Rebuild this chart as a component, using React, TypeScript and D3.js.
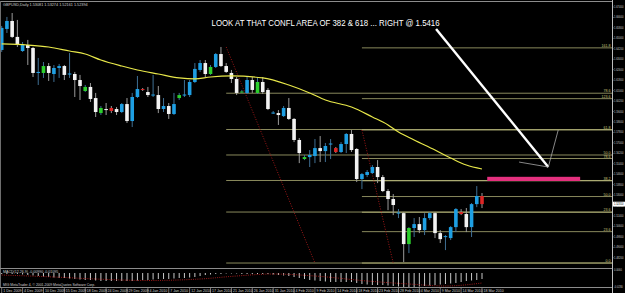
import React from 'react';
import * as d3 from 'd3';

const W = 625;
const H = 293;

// ---------- data ----------
const opens = [
  1.6411, 1.6572, 1.6633, 1.6511, 1.6403, 1.6449, 1.6426, 1.6235, 1.6235, 1.6288,
  1.6227, 1.6273, 1.6288, 1.6223, 1.6227, 1.6181, 1.6097, 1.6128, 1.6043, 1.5928,
  1.5959, 1.5967, 1.5959, 1.5936, 1.5997, 1.5867, 1.6051, 1.6112, 1.6089, 1.6062,
  1.6066, 1.5959, 1.5982, 1.5921, 1.6043, 1.6062, 1.6066, 1.6166, 1.6258, 1.6311,
  1.6227, 1.6281, 1.6380, 1.6288, 1.6235, 1.6189, 1.6085, 1.6082, 1.6181, 1.6082,
  1.6166, 1.6105, 1.5925, 1.5928, 1.5905, 1.5967, 1.5883, 1.5722, 1.5576, 1.5591,
  1.5599, 1.5660, 1.5637, 1.5687, 1.5660, 1.5630, 1.5691, 1.5768, 1.5653, 1.5423,
  1.5454, 1.5469, 1.5515, 1.5438, 1.5331, 1.5270, 1.5159, 1.5162, 1.4925, 1.5048,
  1.5078, 1.5032, 1.5124, 1.5162, 1.5009, 1.4979, 1.4971, 1.5055, 1.5170, 1.5155,
  1.5055, 1.5231, 1.5293,
];
const highs = [
  1.6595, 1.6664, 1.6694, 1.6641, 1.6472, 1.6488, 1.6434, 1.6350, 1.6319, 1.6311,
  1.6296, 1.6304, 1.6296, 1.6388, 1.6243, 1.6220, 1.6143, 1.6158, 1.6082, 1.5982,
  1.6005, 1.5982, 1.5974, 1.6005, 1.6043, 1.6082, 1.6212, 1.6120, 1.6128, 1.6220,
  1.6135, 1.6043, 1.6005, 1.6082, 1.6082, 1.6181, 1.6181, 1.6311, 1.6334, 1.6334,
  1.6296, 1.6388, 1.6434, 1.6311, 1.6258, 1.6204, 1.6105, 1.6204, 1.6204, 1.6204,
  1.6204, 1.6120, 1.5944, 1.5951, 1.5982, 1.6043, 1.5890, 1.5737, 1.5607, 1.5645,
  1.5729, 1.5752, 1.5699, 1.5729, 1.5668, 1.5706, 1.5775, 1.5798, 1.5660, 1.5469,
  1.5492, 1.5530, 1.5568, 1.5454, 1.5346, 1.5308, 1.5193, 1.5170, 1.5055, 1.5124,
  1.5132, 1.5162, 1.5170, 1.5170, 1.5032, 1.4994, 1.5063, 1.5201, 1.5193, 1.5201,
  1.5239, 1.5369, 1.5316,
];
const lows = [
  1.6396, 1.6541, 1.6503, 1.6434, 1.6396, 1.6296, 1.6204, 1.6143, 1.6197, 1.6174,
  1.6166, 1.6197, 1.6181, 1.6197, 1.6051, 1.6028, 1.6089, 1.6013, 1.5898, 1.5913,
  1.5913, 1.5928, 1.5913, 1.5928, 1.5852, 1.5821, 1.6043, 1.6097, 1.6051, 1.6051,
  1.5928, 1.5936, 1.5883, 1.5913, 1.6028, 1.6051, 1.6051, 1.6158, 1.6243, 1.6204,
  1.6220, 1.6273, 1.6281, 1.6235, 1.6158, 1.6066, 1.6082, 1.6074, 1.6082, 1.6074,
  1.6074, 1.5951, 1.5921, 1.5837, 1.5898, 1.5875, 1.5706, 1.5545, 1.5568, 1.5515,
  1.5545, 1.5553, 1.5553, 1.5576, 1.5622, 1.5622, 1.5622, 1.5630, 1.5400, 1.5346,
  1.5438, 1.5461, 1.5392, 1.5323, 1.5185, 1.5147, 1.5124, 1.4787, 1.4856, 1.4979,
  1.5009, 1.4994, 1.5109, 1.4971, 1.4933, 1.4879, 1.4956, 1.5017, 1.5147, 1.5017,
  1.4979, 1.5208, 1.5201,
];
const closes = [
  1.6580, 1.6633, 1.6511, 1.6449, 1.6449, 1.6426, 1.6235, 1.6243, 1.6288, 1.6235,
  1.6273, 1.6288, 1.6220, 1.6231, 1.6181, 1.6135, 1.6128, 1.6036, 1.5936, 1.5967,
  1.5951, 1.5944, 1.5936, 1.5997, 1.5867, 1.6051, 1.6112, 1.6105, 1.6066, 1.6070,
  1.5959, 1.5982, 1.5921, 1.5997, 1.6066, 1.6070, 1.6166, 1.6266, 1.6311, 1.6227,
  1.6281, 1.6380, 1.6288, 1.6243, 1.6189, 1.6082, 1.6093, 1.6181, 1.6105, 1.6166,
  1.6089, 1.5959, 1.5932, 1.5913, 1.5967, 1.5883, 1.5722, 1.5622, 1.5591, 1.5607,
  1.5660, 1.5637, 1.5676, 1.5695, 1.5630, 1.5691, 1.5768, 1.5645, 1.5423, 1.5461,
  1.5477, 1.5515, 1.5438, 1.5331, 1.5270, 1.5224, 1.5166, 1.4925, 1.5048, 1.5078,
  1.5032, 1.5124, 1.5162, 1.5009, 1.4963, 1.4986, 1.5055, 1.5193, 1.5155, 1.5055,
  1.5231, 1.5293, 1.5231,
];
// candle paint: u = blue, d = white, g = green, r = red
const kinds = (
  'uudduddugd' + 'uududdgddg' + 'drduduurdu' + 'duduguuuud' + 'guddddgudg' +
  'ddudu' + 'dddgu' + 'uduuruuddu' + 'uuddddudgu' + 'duudduuurd' + 'uur'
).split('');

// moving average (yellow) read at sample bars
const maIndex = [0, 5, 9, 13, 16, 19, 23, 26, 30, 34, 37, 40, 44, 50, 55, 59, 62, 67, 71, 74, 76, 79, 83, 86, 89, 92];
const maValue = [1.6457, 1.6449, 1.6434, 1.6403, 1.6380, 1.6334, 1.6288, 1.6258, 1.6227, 1.6197, 1.6189, 1.6204, 1.6212,
  1.6197, 1.6143, 1.6082, 1.6028, 1.5974, 1.5898, 1.5837, 1.5783, 1.5722, 1.5645, 1.5584, 1.5530, 1.5500];

// MACD histogram (main) per bar and signal at sample bars
const macdMain = [
  -0.002, -0.002, -0.002, -0.002, -0.003, -0.004,
  -0.005, -0.006, -0.007, -0.008, -0.009,
  -0.010, -0.010, -0.011, -0.012, -0.013,
  -0.014, -0.014, -0.015, -0.016, -0.016, -0.016, -0.016, -0.016, -0.016, -0.016,
  -0.015, -0.014, -0.014, -0.013, -0.012, -0.012, -0.012, -0.011, -0.010, -0.010,
  -0.009, -0.008, -0.006, -0.004, -0.003, -0.002,
  -0.002, -0.001, -0.001, -0.001, -0.002, -0.002, -0.002, -0.002, -0.002, -0.002, -0.003,
  -0.004, -0.005, -0.006, -0.008, -0.010, -0.012, -0.014, -0.015,
  -0.016, -0.017, -0.018, -0.018, -0.018, -0.018, -0.018, -0.020, -0.022, -0.023,
  -0.024, -0.024, -0.024, -0.025, -0.026, -0.027, -0.028, -0.028,
  -0.028, -0.027, -0.026, -0.025, -0.024, -0.023, -0.022, -0.021,
  -0.020, -0.018, -0.016, -0.015, -0.014, -0.012,
];
const sigIndex = [0, 10, 18, 28, 38, 45, 52, 60, 70, 78, 85, 92];
const sigValue = [-0.004, -0.008, -0.012, -0.015, -0.012, -0.006, -0.002, -0.006, -0.016, -0.022, -0.026, -0.020];

// Fibonacci objects: anchors [bar, price] and levels (%)
const fib1Anchors = [[43, 1.6434], [60, 1.4780]];
const fib1Levels = [0, 23.6, 38.2, 50, 61.8, 78.6];
const fib2Anchors = [[69, 1.5798], [75, 1.4780]];
const fib2Levels = [0, 23.6, 38.2, 50, 61.8, 78.6, 100, 123.6, 161.8];

// annotations [bar, price]
const arrowMain = [[83.2, 1.6572], [104.7, 1.5515]];
const arrowHeadA = [[99.1, 1.5553], [104.7, 1.5515]];
const arrowHeadB = [[104.7, 1.5515], [106.6, 1.5798]];
const zoneBars = [93, 110.8];
const zonePrices = [1.5440, 1.5408];
const noteAnchor = [40.2, 1.6598];
const noteText = 'LOOK AT THAT CONFL AREA OF 382 & 618 ... RIGHT @ 1.5416';

const priceTicks = [1.674, 1.666, 1.658, 1.650, 1.642, 1.634, 1.626, 1.618, 1.610, 1.602, 1.594, 1.586, 1.578,
  1.570, 1.562, 1.554, 1.546, 1.538, 1.530, 1.522, 1.514, 1.506, 1.498, 1.490, 1.482];
const macdTicks = [0.006, -0.028];

const dateLabels = ['1 Dec 2009', '4 Dec 2009', '10 Dec 2009', '15 Dec 2009', '18 Dec 2009', '24 Dec 2009',
  '29 Dec 2009', '4 Jan 2010', '7 Jan 2010', '12 Jan 2010', '17 Jan 2010', '21 Jan 2010', '26 Jan 2010',
  '31 Jan 2010', '4 Feb 2010', '9 Feb 2010', '14 Feb 2010', '18 Feb 2010', '23 Feb 2010', '28 Feb 2010',
  '4 Mar 2010', '9 Mar 2010', '14 Mar 2010', '18 Mar 2010'];
const dateStep = 4;

const titleText = 'GBPUSD,Daily  1.53081 1.53274 1.52161 1.52394';
const macdText = 'MACD(12,26,9) -0.00990 -0.01095';
const footerText = 'MIG MetaTrader 4, \u00a9 2001-2009 MetaQuotes Software Corp.';

// ---------- styles ----------
const FONT = '"Liberation Sans", Arial, sans-serif';
const candleColors: Record<string, { body: string; wick: string }> = {
  u: { body: '#1e9fe3', wick: '#3f6f93' },
  d: { body: '#f2f2f2', wick: '#9a9a9a' },
  g: { body: '#2ccf2c', wick: '#3f6f93' },
  r: { body: '#dd2626', wick: '#9a9a9a' },
};
const FIB_COLOR = '#e4e49a';

export default function App() {
  const plotRight = 612;
  const x = d3.scaleLinear().domain([0, 92]).range([1.7, 482]);
  const y = d3.scaleLinear().domain([1.474, 1.674]).range([268.25, 7]);
  const ym = d3.scaleLinear().domain([-0.028, 0.006]).range([287, 270]);
  const bw = 3.6;

  const maLine = d3
    .line<number>()
    .x((_, i) => x(maIndex[i]))
    .y((v) => y(v))
    .curve(d3.curveMonotoneX)(maValue);

  const sigLine = d3
    .line<number>()
    .x((_, i) => x(sigIndex[i]))
    .y((v) => ym(v))
    .curve(d3.curveMonotoneX)(sigValue);

  const fibs = [
    { anchors: fib1Anchors, levels: fib1Levels },
    { anchors: fib2Anchors, levels: fib2Levels },
  ];

  // level labels: keep only one label per pixel row so they do not overprint
  const usedLabelY: number[] = [];

  const lastClose = closes[closes.length - 1];
  const axisFont = 2.6;

  return (
    <svg
      width={W}
      height={H}
      style={{ position: 'fixed', left: 0, top: 0, display: 'block', background: '#000' }}
      fontFamily={FONT}
    >
      <rect width={W} height={H} fill="#000" />
      <defs>
        <clipPath id="mainClip">
          <rect x={1} y={2} width={plotRight - 1} height={266} />
        </clipPath>
        <clipPath id="macdClip">
          <rect x={1} y={270} width={plotRight - 1} height={17} />
        </clipPath>
      </defs>

      {/* window frame */}
      <line x1={0} x2={plotRight} y1={1.5} y2={1.5} stroke="#8c8c8c" />
      <line x1={0.5} x2={0.5} y1={1} y2={287} stroke="#6e6e6e" />
      <line x1={0} x2={plotRight} y1={268.5} y2={268.5} stroke="#8c8c8c" />
      <line x1={0} x2={plotRight} y1={287.5} y2={287.5} stroke="#8c8c8c" />
      <line x1={plotRight + 0.5} x2={plotRight + 0.5} y1={0} y2={293} stroke="#bdbdbd" />

      <g clipPath="url(#mainClip)">
        {/* fib levels */}
        {fibs.map((f, fi) => {
          const [a, b] = f.anchors;
          const lo = Math.min(a[1], b[1]);
          const range = Math.abs(a[1] - b[1]);
          const x0 = x(Math.min(a[0], b[0]));
          return (
            <g key={'fib' + fi}>
              {f.levels.map((lv) => {
                const yy = y(lo + (range * lv) / 100);
                return (
                  <line key={lv} x1={x0} x2={plotRight} y1={yy} y2={yy} stroke={FIB_COLOR} strokeOpacity={0.6} strokeWidth={1} />
                );
              })}
              <line
                x1={x(a[0])}
                y1={y(a[1])}
                x2={x(b[0])}
                y2={y(b[1])}
                stroke="#a01818"
                strokeWidth={1}
                strokeDasharray="1 1.6"
              />
            </g>
          );
        })}

        {/* pink zone */}
        <rect
          x={x(zoneBars[0])}
          y={y(zonePrices[0])}
          width={x(zoneBars[1]) - x(zoneBars[0])}
          height={y(zonePrices[1]) - y(zonePrices[0])}
          fill="#e4307e"
        />

        {/* candles */}
        {opens.map((o, i) => {
          const c = closes[i];
          const col = candleColors[kinds[i]] || candleColors.u;
          const cx = x(i);
          const top = y(Math.max(o, c));
          const bot = y(Math.min(o, c));
          return (
            <g key={'c' + i}>
              <line x1={cx} x2={cx} y1={y(highs[i])} y2={y(lows[i])} stroke={col.wick} strokeWidth={1} />
              <rect x={cx - bw / 2} y={top} width={bw} height={Math.max(1, bot - top)} fill={col.body} />
            </g>
          );
        })}

        {/* moving average */}
        <path d={maLine || ''} fill="none" stroke="#e8e84a" strokeWidth={1.2} />

        {/* arrow annotation */}
        <line
          x1={x(arrowMain[0][0])}
          y1={y(arrowMain[0][1])}
          x2={x(arrowMain[1][0])}
          y2={y(arrowMain[1][1])}
          stroke="#ffffff"
          strokeWidth={2.4}
        />
        <line
          x1={x(arrowHeadA[0][0])}
          y1={y(arrowHeadA[0][1])}
          x2={x(arrowHeadA[1][0])}
          y2={y(arrowHeadA[1][1])}
          stroke="#a8a8a8"
          strokeWidth={0.8}
        />
        <line
          x1={x(arrowHeadB[0][0])}
          y1={y(arrowHeadB[0][1])}
          x2={x(arrowHeadB[1][0])}
          y2={y(arrowHeadB[1][1])}
          stroke="#a8a8a8"
          strokeWidth={0.8}
        />

        {/* note */}
        <text x={x(noteAnchor[0])} y={y(noteAnchor[1])} fontSize={8.3} fill="#ffffff" textLength={228} lengthAdjust="spacingAndGlyphs">
          {noteText}
        </text>
      </g>

      {/* fib level labels */}
      {fibs.map((f, fi) => {
        const [a, b] = f.anchors;
        const lo = Math.min(a[1], b[1]);
        const range = Math.abs(a[1] - b[1]);
        return f.levels.map((lv) => {
          const yy = y(lo + (range * lv) / 100);
          if (usedLabelY.some((u) => Math.abs(u - yy) < 3.5)) return null;
          usedLabelY.push(yy);
          return (
            <text
              key={'fl' + fi + '-' + lv}
              x={plotRight - 1.5}
              y={yy - 0.8}
              fontSize={3.6}
              fill="#c8c87a"
              textAnchor="end"
            >
              {lv.toFixed(1)}
            </text>
          );
        });
      })}

      {/* title */}
      <text x={3} y={6} fontSize={3.8} fill="#cfcfcf">
        {titleText}
      </text>

      {/* price axis */}
      {priceTicks.map((p) => (
        <g key={'pt' + p}>
          <line x1={plotRight} x2={plotRight + 1.6} y1={y(p)} y2={y(p)} stroke="#bdbdbd" strokeWidth={0.6} />
          <text x={plotRight + 2} y={y(p) + 1} fontSize={axisFont} fill="#c8c8c8">
            {p.toFixed(5)}
          </text>
        </g>
      ))}
      <rect x={plotRight + 1} y={y(lastClose) - 2.4} width={W - plotRight - 1} height={4.8} fill="#ffffff" />
      <text x={plotRight + 2} y={y(lastClose) + 1} fontSize={axisFont} fill="#000">
        {lastClose.toFixed(5)}
      </text>

      {/* MACD window */}
      <g clipPath="url(#macdClip)">
        {macdMain.map((v, i) => (
          <line key={'m' + i} x1={x(i)} x2={x(i)} y1={ym(0)} y2={ym(v)} stroke="#c8c8c8" strokeWidth={1} />
        ))}
        <path d={sigLine || ''} fill="none" stroke="#c02020" strokeWidth={0.8} strokeDasharray="1 1.2" />
      </g>
      <text x={3} y={273} fontSize={3.6} fill="#d0d0d0">
        {macdText}
      </text>
      <text x={3} y={285.5} fontSize={3.4} fill="#d0d0d0">
        {footerText}
      </text>
      {macdTicks.map((v) => (
        <text key={'mt' + v} x={plotRight + 2} y={ym(v) + 1} fontSize={axisFont} fill="#c8c8c8">
          {v.toFixed(4)}
        </text>
      ))}

      {/* date axis */}
      {dateLabels.map((lab, k) => {
        const xx = x(k * dateStep);
        return (
          <g key={lab}>
            <line x1={xx} x2={xx} y1={288} y2={293} stroke="#bdbdbd" strokeWidth={0.6} />
            <text x={xx + 1.5} y={291.8} fontSize={3.6} fill="#d0d0d0">
              {lab}
            </text>
          </g>
        );
      })}
    </svg>
  );
}
